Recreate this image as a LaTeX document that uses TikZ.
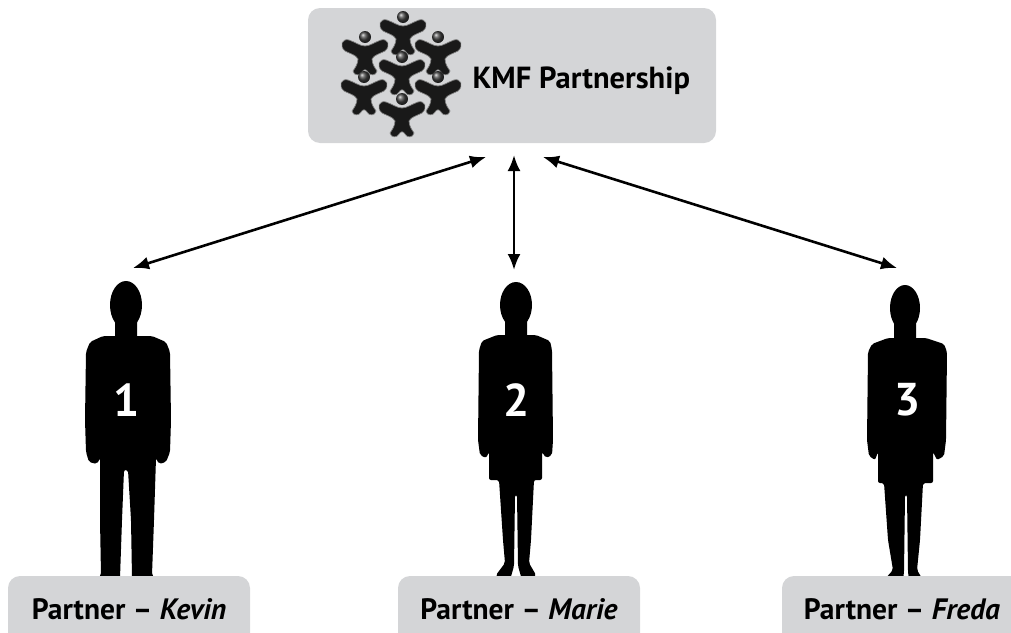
\documentclass[tikz,border=0pt]{standalone}
\usepackage{fontspec}
\setmainfont{PT Sans}
\usetikzlibrary{arrows.meta}
\usetikzlibrary{positioning}
\definecolor{kmfgray}{RGB}{212, 213, 215}
\tikzset{link/.style = {<->, >={Latex[length=16pt, width=13pt]}, line width=2.6pt}}
\tikzset{kmfbox/.style = {fill=kmfgray, rounded corners=12pt}}
\tikzset{namebox/.style = {fill=kmfgray, rounded corners=12pt}}
\tikzset{nametext/.style = {font=\fontsize{29.5}{32}\selectfont\bfseries, anchor=base}}
\tikzset{personfig/.style = {fill=black, rounded corners=2pt}}
\tikzset{digit/.style = {text=white, font=\fontsize{46}{46}\selectfont\bfseries}}
\tikzset{logofig/.style = {fill=black!90, draw=black!50, line width=0.7pt}}

\begin{document}
\begin{tikzpicture}[x=1pt, y=-1pt]
    \useasboundingbox (0, 0) rectangle (1011, 632);

    % partnership box
    \fill [kmfbox] (308, 8) rectangle (716, 143);
    \node (kmf) [anchor=base west, font=\fontsize{30.5}{32}\selectfont\bfseries] at (469, 88) {KMF Partnership};
    \foreach \x/\y in {403/18, 365/38, 438/38, 402/58, 364/78, 438/78, 402/100} {
      \begin{scope}[shift={(\x, \y)}]
        \path [logofig] (0, 8) .. controls (-5, 8) and (-10, 4) .. (-16, 2)
          .. controls (-23, 0) and (-26, 8) .. (-20, 13)
          .. controls (-14, 16) and (-9, 17) .. (-7, 21)
          .. controls (-7, 26) and (-10, 30) .. (-12, 33)
          .. controls (-11, 38) and (-5, 38) .. (-3, 34)
          .. controls (-1, 31) and (1, 31) .. (3, 34)
          .. controls (5, 38) and (11, 38) .. (12, 33)
          .. controls (10, 30) and (7, 26) .. (7, 21)
          .. controls (9, 17) and (14, 16) .. (20, 13)
          .. controls (26, 8) and (23, 0) .. (16, 2)
          .. controls (10, 4) and (5, 8) .. (0, 8) -- cycle;
        \shade [ball color=black!75] (0, -1) circle (6);
      \end{scope}
    }

    % partners
    \fill [personfig] (126, 305) ellipse (16 and 24);
    \fill [personfig] (115, 318) rectangle (137, 342);
    \fill [personfig] (103, 336) -- (90, 342) -- (86, 352) -- (85, 420) -- (86, 452) -- (89, 462) -- (97, 464) -- (100, 458)
      -- (100, 520) -- (101, 575) -- (95, 583) -- (96, 589) -- (118, 589) -- (120, 578) -- (122, 520) -- (124, 470)
      -- (128, 470) -- (131, 520) -- (132, 578) -- (134, 589) -- (157, 589) -- (158, 583) -- (152, 575) -- (154, 520)
      -- (156, 458) -- (159, 464) -- (166, 462) -- (170, 452) -- (171, 420) -- (170, 352) -- (166, 342) -- (152, 336) -- cycle;

    \fill [personfig] (516, 305) ellipse (16 and 23);
    \fill [personfig] (505, 318) rectangle (527, 340);
    \fill [personfig] (497, 335) -- (482, 341) -- (479, 350) -- (478, 440) -- (480, 455) -- (486, 458) -- (489, 452)
      -- (489, 480) -- (499, 480) -- (503, 540) -- (505, 563) -- (496, 575) -- (497, 580) -- (510, 580) -- (514, 566)
      -- (515, 495) -- (517, 495) -- (518, 566) -- (522, 580) -- (534, 580) -- (536, 575) -- (529, 563) -- (531, 540)
      -- (534, 480) -- (542, 480) -- (542, 452) -- (546, 458) -- (552, 455) -- (553, 440) -- (552, 350) -- (550, 341)
      -- (536, 335) -- cycle;

    \fill [personfig] (905, 308) ellipse (15 and 23);
    \fill [personfig] (894, 322) rectangle (916, 345);
    \fill [personfig] (888, 338) -- (872, 344) -- (868, 352) -- (867, 440) -- (869, 456) -- (875, 460) -- (878, 452)
      -- (878, 483) -- (884, 483) -- (888, 540) -- (893, 570) -- (884, 580) -- (886, 587) -- (902, 587) -- (904, 572)
      -- (905, 495) -- (907, 495) -- (908, 572) -- (910, 587) -- (922, 587) -- (923, 580) -- (917, 570) -- (920, 540)
      -- (923, 483) -- (933, 483) -- (933, 452) -- (937, 460) -- (944, 456) -- (946, 440) -- (947, 352) -- (944, 344)
      -- (926, 338) -- cycle;

    \node (n1) [digit] at (127, 400) {1};
    \node (n2) [digit] at (517, 400) {2};
    \node (n3) [digit] at (908, 400) {3};

    % name boxes
    \fill [namebox] (8, 576) rectangle (250, 650);
    \fill [namebox] (398, 576) rectangle (640, 650);
    \fill [namebox] (782, 576) rectangle (1030, 650);
    \node (kevin) [nametext] at (129, 619) {Partner -- \textit{Kevin}};
    \node (marie) [nametext] at (519, 619) {Partner -- \textit{Marie}};
    \node (freda) [nametext] at (902, 619) {Partner -- \textit{Freda}};

    % links
    \coordinate (kmfL) at (486, 157);
    \coordinate (kmfM) at (514, 155);
    \coordinate (kmfR) at (543, 157);
    \coordinate (p1) at (133, 268);
    \coordinate (p2) at (514, 270);
    \coordinate (p3) at (897, 268);
    \draw [link] (p1) -- (kmfL);
    \draw [link] (p2) -- (kmfM);
    \draw [link] (p3) -- (kmfR);
  \end{tikzpicture}
\end{document}
